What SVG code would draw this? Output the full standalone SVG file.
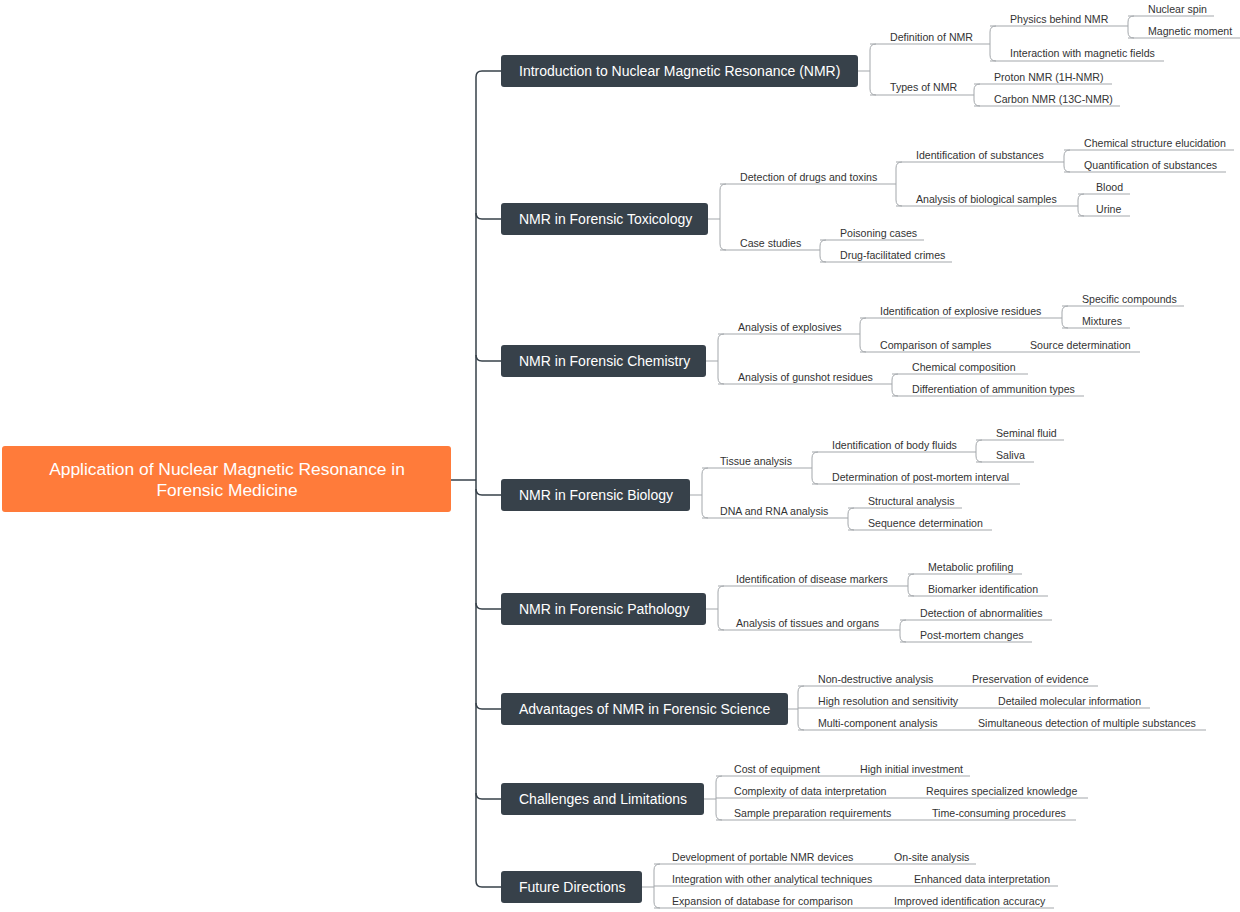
<svg xmlns="http://www.w3.org/2000/svg" width="1240" height="912" viewBox="0 0 1240 912">
<style>
.t{font-family:"Liberation Sans",Arial,sans-serif;font-size:10.6px;fill:#333}
.m{font-family:"Liberation Sans",Arial,sans-serif;font-size:14px;fill:#fff}
.r{font-family:"Liberation Sans",Arial,sans-serif;font-size:17.4px;fill:#fff}
.c path,.c line{fill:none;stroke:#a3a7ab;stroke-width:1}
.k path,.k line{fill:none;stroke:#37414a;stroke-width:1.5}
.mb{fill:#37414a}
</style>
<rect width="1240" height="912" fill="#fff"/>
<g class="k" id="trunk">
<line x1="451" y1="480" x2="476" y2="480"/>
<path d="M501 71H482Q476 71 476 77V881Q476 887 482 887H501"/>
<path d="M476 213Q476 219 482 219H501M476 355Q476 361 482 361H501M476 489Q476 495 482 495H501M476 603Q476 609 482 609H501M476 703Q476 709 482 709H501M476 793Q476 799 482 799H501"/>
</g>
<g class="c" id="connectors">
<path d="M858 71H870M876 44Q870 44 870 50V89Q870 95 876 95"/>
<path d="M870 44H990M996 26Q990 26 990 32V55Q990 61 996 61M990 26H1128M990 61H1164M1134 16Q1128 16 1128 22V32Q1128 38 1134 38M1128 16H1214M1128 38H1240"/>
<path d="M870 95H974M980 84Q974 84 974 90V100Q974 106 980 106M974 84H1112M974 106H1120"/>
<path d="M708 219H720M726 184Q720 184 720 190V244Q720 250 726 250M720 184H896M720 250H820"/>
<path d="M902 162Q896 162 896 168V200Q896 206 902 206M896 162H1064M896 206H1078"/>
<path d="M1070 150Q1064 150 1064 156V166Q1064 172 1070 172M1064 150H1234M1064 172H1226"/>
<path d="M1084 194Q1078 194 1078 200V210Q1078 216 1084 216M1078 194H1130M1078 216H1130"/>
<path d="M826 240Q820 240 820 246V256Q820 262 826 262M820 240H924M820 262H952"/>
<path d="M706 361H718M724 334Q718 334 718 340V378Q718 384 724 384M718 334H860M718 384H892"/>
<path d="M866 318Q860 318 860 324V346Q860 352 866 352M860 318H1062M860 352H1140"/>
<path d="M1068 306Q1062 306 1062 312V322Q1062 328 1068 328M1062 306H1184M1062 328H1130"/>
<path d="M898 374Q892 374 892 380V390Q892 396 898 396M892 374H1028M892 396H1084"/>
<path d="M690 495H702M708 468Q702 468 702 474V512Q702 518 708 518M702 468H812M702 518H848"/>
<path d="M818 452Q812 452 812 458V478Q812 484 818 484M812 452H976M812 484H1020"/>
<path d="M982 440Q976 440 976 446V456Q976 462 982 462M976 440H1064M976 462H1034"/>
<path d="M854 508Q848 508 848 514V524Q848 530 854 530M848 508H962M848 530H992"/>
<path d="M706 609H718M724 586Q718 586 718 592V624Q718 630 724 630M718 586H908M718 630H900"/>
<path d="M914 574Q908 574 908 580V590Q908 596 914 596M908 574H1022M908 596H1048"/>
<path d="M906 620Q900 620 900 626V636Q900 642 906 642M900 620H1052M900 642H1032"/>
<path d="M788 709H798M804 686Q798 686 798 692V724Q798 730 804 730M798 686H1098M798 708H1150M798 730H1206"/>
<path d="M704 799H716M722 776Q716 776 716 782V814Q716 820 722 820M716 776H970M716 798H1088M716 820H1076"/>
<path d="M642 887H654M660 864Q654 864 654 870V902Q654 908 660 908M654 864H976M654 886H1058M654 908H1054"/>
</g>
<g id="root"><rect x="2" y="446" width="449" height="66" rx="3" fill="#ff7b3a"/>
<text class="r" x="227" y="475" text-anchor="middle">Application of Nuclear Magnetic Resonance in</text>
<text class="r" x="227" y="496" text-anchor="middle">Forensic Medicine</text></g>
<g id="n1"><rect class="mb" x="501" y="55" width="357" height="32" rx="3"/><text class="m" x="519" y="76">Introduction to Nuclear Magnetic Resonance (NMR)</text></g>
<g id="n2"><rect class="mb" x="501" y="203" width="207" height="32" rx="3"/><text class="m" x="519" y="224">NMR in Forensic Toxicology</text></g>
<g id="n3"><rect class="mb" x="501" y="345" width="205" height="32" rx="3"/><text class="m" x="519" y="366">NMR in Forensic Chemistry</text></g>
<g id="n4"><rect class="mb" x="501" y="479" width="189" height="32" rx="3"/><text class="m" x="519" y="500">NMR in Forensic Biology</text></g>
<g id="n5"><rect class="mb" x="501" y="593" width="205" height="32" rx="3"/><text class="m" x="519" y="614">NMR in Forensic Pathology</text></g>
<g id="n6"><rect class="mb" x="501" y="693" width="287" height="32" rx="3"/><text class="m" x="519" y="714">Advantages of NMR in Forensic Science</text></g>
<g id="n7"><rect class="mb" x="501" y="783" width="203" height="32" rx="3"/><text class="m" x="519" y="804">Challenges and Limitations</text></g>
<g id="n8"><rect class="mb" x="501" y="871" width="141" height="32" rx="3"/><text class="m" x="519" y="892">Future Directions</text></g>
<g id="labels">
<text class="t" x="890" y="41">Definition of NMR</text>
<text class="t" x="1010" y="23">Physics behind NMR</text>
<text class="t" x="1010" y="57">Interaction with magnetic fields</text>
<text class="t" x="1148" y="13">Nuclear spin</text>
<text class="t" x="1148" y="35">Magnetic moment</text>
<text class="t" x="890" y="91">Types of NMR</text>
<text class="t" x="994" y="81">Proton NMR (1H-NMR)</text>
<text class="t" x="994" y="103">Carbon NMR (13C-NMR)</text>
<text class="t" x="740" y="181">Detection of drugs and toxins</text>
<text class="t" x="916" y="159">Identification of substances</text>
<text class="t" x="916" y="203">Analysis of biological samples</text>
<text class="t" x="1084" y="147">Chemical structure elucidation</text>
<text class="t" x="1084" y="169">Quantification of substances</text>
<text class="t" x="1096" y="191">Blood</text>
<text class="t" x="1096" y="213">Urine</text>
<text class="t" x="740" y="247">Case studies</text>
<text class="t" x="840" y="237">Poisoning cases</text>
<text class="t" x="840" y="259">Drug-facilitated crimes</text>
<text class="t" x="738" y="331">Analysis of explosives</text>
<text class="t" x="880" y="315">Identification of explosive residues</text>
<text class="t" x="880" y="349">Comparison of samples</text>
<text class="t" x="1082" y="303">Specific compounds</text>
<text class="t" x="1082" y="325">Mixtures</text>
<text class="t" x="1030" y="349">Source determination</text>
<text class="t" x="738" y="381">Analysis of gunshot residues</text>
<text class="t" x="912" y="371">Chemical composition</text>
<text class="t" x="912" y="393">Differentiation of ammunition types</text>
<text class="t" x="720" y="465">Tissue analysis</text>
<text class="t" x="832" y="449">Identification of body fluids</text>
<text class="t" x="832" y="481">Determination of post-mortem interval</text>
<text class="t" x="996" y="437">Seminal fluid</text>
<text class="t" x="996" y="459">Saliva</text>
<text class="t" x="720" y="515">DNA and RNA analysis</text>
<text class="t" x="868" y="505">Structural analysis</text>
<text class="t" x="868" y="527">Sequence determination</text>
<text class="t" x="736" y="583">Identification of disease markers</text>
<text class="t" x="928" y="571">Metabolic profiling</text>
<text class="t" x="928" y="593">Biomarker identification</text>
<text class="t" x="736" y="627">Analysis of tissues and organs</text>
<text class="t" x="920" y="617">Detection of abnormalities</text>
<text class="t" x="920" y="639">Post-mortem changes</text>
<text class="t" x="818" y="683">Non-destructive analysis</text>
<text class="t" x="972" y="683">Preservation of evidence</text>
<text class="t" x="818" y="705">High resolution and sensitivity</text>
<text class="t" x="998" y="705">Detailed molecular information</text>
<text class="t" x="818" y="727">Multi-component analysis</text>
<text class="t" x="978" y="727">Simultaneous detection of multiple substances</text>
<text class="t" x="734" y="773">Cost of equipment</text>
<text class="t" x="860" y="773">High initial investment</text>
<text class="t" x="734" y="795">Complexity of data interpretation</text>
<text class="t" x="926" y="795">Requires specialized knowledge</text>
<text class="t" x="734" y="817">Sample preparation requirements</text>
<text class="t" x="932" y="817">Time-consuming procedures</text>
<text class="t" x="672" y="861">Development of portable NMR devices</text>
<text class="t" x="894" y="861">On-site analysis</text>
<text class="t" x="672" y="883">Integration with other analytical techniques</text>
<text class="t" x="914" y="883">Enhanced data interpretation</text>
<text class="t" x="672" y="905">Expansion of database for comparison</text>
<text class="t" x="894" y="905">Improved identification accuracy</text>
</g>
</svg>
